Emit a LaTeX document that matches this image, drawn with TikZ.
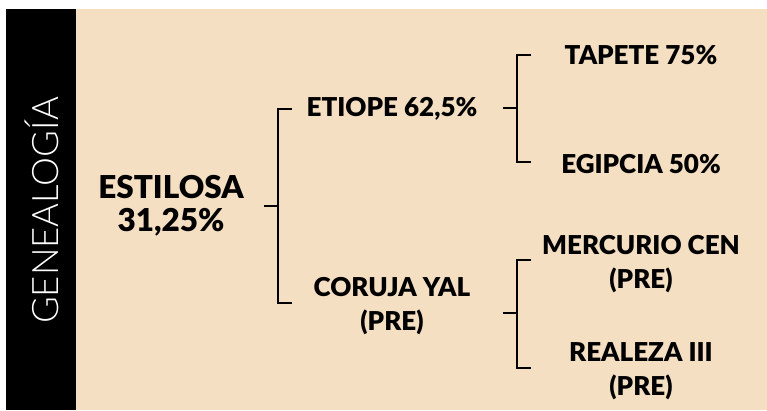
\documentclass[tikz,border=0pt]{standalone}
\usepackage{fontspec}
\setmainfont{Lato}
\newfontfamily\thinfont{Lato Light}
\newfontfamily\heavyfont{Lato Black}
\definecolor{beige}{RGB}{245,223,194}
\tikzset{
  bigname/.style={font=\heavyfont\fontsize{31.5}{33}\selectfont, align=center, inner sep=0pt},
  person/.style={font=\heavyfont\fontsize{26}{34}\selectfont, align=center, inner sep=0pt},
  bracket/.style={line width=2pt, black},
}
\begin{document}
\begin{tikzpicture}[x=1pt,y=-1pt]
\useasboundingbox (0,0) rectangle (767,410);
\fill[white] (0,0) rectangle (767,410);
\fill[beige] (76,9) rectangle (767,410);
\fill[black] (6,9) rectangle (76,410);
\node[text=white, rotate=90, inner sep=0pt, font=\thinfont\fontsize{36.5}{36.5}\selectfont] (title) at (42,210.5) {GENEALOGÍA};
\node[bigname] (estilosa) at (171,206) {ESTILOSA\\31,25\%};
\node[person] (etiope) at (392,109) {ETIOPE 62,5\%};
\node[person] (coruja) at (392,306) {CORUJA YAL\\(PRE)};
\node[person] (tapete) at (641,55) {TAPETE 75\%};
\node[person] (egipcia) at (641,164) {EGIPCIA 50\%};
\node[person] (mercurio) at (641,264) {MERCURIO CEN\\(PRE)};
\node[person] (realeza) at (641,371) {REALEZA III\\(PRE)};
% bracket 1
\coordinate (a0) at (264,206);
\coordinate (a1) at (278,206);
\coordinate (a2) at (292,109);
\coordinate (a3) at (292,303);
\draw[bracket] (a0) -- (a1);
\draw[bracket] (a2) -| (a1) |- (a3);
% bracket 2
\coordinate (b0) at (503,108);
\coordinate (b1) at (517,108);
\coordinate (b2) at (531,55);
\coordinate (b3) at (531,162);
\draw[bracket] (b0) -- (b1);
\draw[bracket] (b2) -| (b1) |- (b3);
% bracket 3
\coordinate (c0) at (503,313);
\coordinate (c1) at (517,313);
\coordinate (c2) at (531,260);
\coordinate (c3) at (531,368);
\draw[bracket] (c0) -- (c1);
\draw[bracket] (c2) -| (c1) |- (c3);
\end{tikzpicture}
\end{document}
